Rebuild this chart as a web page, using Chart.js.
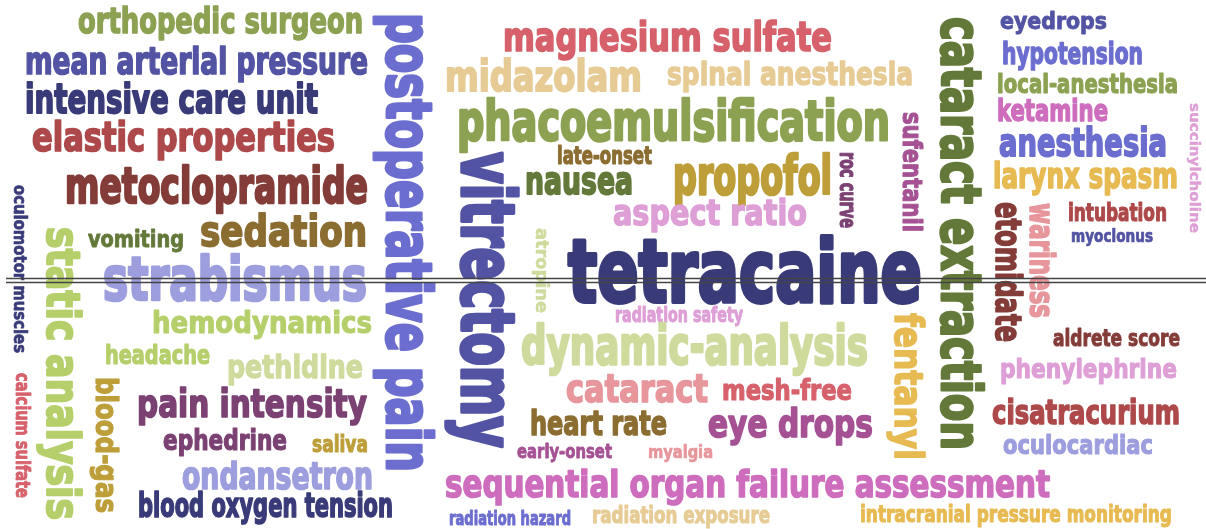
<!DOCTYPE html>
<html>
<head>
<meta charset="utf-8">
<script src="https://cdn.jsdelivr.net/npm/chart.js"></script>
<style>
    html, body { margin: 0; padding: 0; background: #fff; }
    #wrap { width: 1206px; height: 529px; position: relative; }
</style>
</head>
<body>
<div id="wrap"><canvas id="cloud"></canvas></div>
<script>
// word list of the cloud
const words = [
    "orthopedic surgeon", "mean arterial pressure", "intensive care unit", "elastic properties",
    "metoclopramide", "sedation", "vomiting", "strabismus", "hemodynamics", "headache",
    "pethidine", "pain intensity", "ephedrine", "saliva", "ondansetron", "blood oxygen tension",
    "magnesium sulfate", "midazolam", "spinal anesthesia", "phacoemulsification", "late-onset",
    "nausea", "propofol", "aspect ratio", "tetracaine", "radiation safety", "dynamic-analysis",
    "cataract", "mesh-free", "heart rate", "eye drops", "early-onset", "myalgia",
    "sequential organ failure assessment", "radiation hazard", "radiation exposure",
    "intracranial pressure monitoring", "eyedrops", "hypotension", "local-anesthesia", "ketamine",
    "anesthesia", "larynx spasm", "intubation", "myoclonus", "aldrete score", "phenylephrine",
    "cisatracurium", "oculocardiac",
    "postoperative pain", "vitrectomy", "cataract extraction", "oculomotor muscles",
    "static analysis", "calcium sulfate", "blood-gas", "atropine", "roc curve", "sufentanil",
    "fentanyl", "etomidate", "wariness", "succinylcholine"
];

// weight of each word (letter height)
const weights = [
    25, 27, 29, 29, 36, 31, 16, 43, 21, 19,
    22.5, 28, 20, 16.5, 27, 24,
    29, 31, 23, 40, 18,
    28, 38, 25, 62, 15, 38,
    28, 20.5, 24.5, 28, 13.5, 12.5,
    27, 14.5, 17,
    17, 17, 21, 19, 21.5,
    28, 25, 17.5, 12.5, 16, 19.5,
    24, 19,
    45, 52, 40, 12.5,
    33, 14, 22, 12, 16, 19,
    28, 25.5, 24.5, 10.5
];

// layout: anchor x, anchor y, run length, turned (0/1)
const posX = [
    220.5, 196.5, 171.5, 183.5, 216.5, 283.5, 136, 235, 262, 157.5,
    295, 252, 225, 340, 277.5, 265.5,
    667.5, 543.5, 790, 673.5, 604.5,
    579, 752.5, 710, 745, 679, 694.5,
    637, 787, 598.5, 790.5, 564.5, 680.5,
    747.5, 510, 681,
    1016, 1053.5, 1072.5, 1087.5, 1052.5,
    1083, 1085.5, 1117.5, 1112, 1116.5, 1088.5,
    1086, 1078,
    387, 462, 942, 13.5,
    47, 16, 96, 536, 840, 903,
    895, 996, 1030, 1189.5
];
const posY = [
    33, 74, 112.5, 150.5, 202.5, 246, 247, 300, 333, 364,
    377.5, 417, 450, 451.5, 488.5, 516.5,
    50.5, 90.5, 84.5, 140, 163.5,
    193.5, 193.5, 225, 301.5, 321.5, 364,
    401.5, 399.5, 435, 436.5, 457.5, 457.5,
    497, 524.5, 522.5,
    522, 28.5, 64, 92.5, 120.5,
    156, 188, 221, 242, 346, 377.5,
    424, 454,
    242.5, 300, 233.5, 269,
    373.5, 435.5, 445, 270.5, 190, 172,
    386.5, 272, 260.5, 168
];
const spans = [
    285, 343, 293, 303, 303, 167, 96, 264, 220, 105,
    136, 230, 124, 56, 191, 255,
    329, 197, 246, 433, 95,
    108, 159, 194, 354, 128, 347,
    142, 130, 137, 165, 95, 65,
    605, 122, 178,
    312, 107, 141, 181, 111,
    168, 185, 99, 82, 127, 177,
    188, 150,
    459, 296, 433, 168,
    293, 125, 136, 85, 76, 120,
    147, 140, 115, 130
];
const turned = [
    0, 0, 0, 0, 0, 0, 0, 0, 0, 0,
    0, 0, 0, 0, 0, 0,
    0, 0, 0, 0, 0,
    0, 0, 0, 0, 0, 0,
    0, 0, 0, 0, 0, 0,
    0, 0, 0,
    0, 0, 0, 0, 0,
    0, 0, 0, 0, 0, 0,
    0, 0,
    1, 1, 1, 1,
    1, 1, 1, 1, 1, 1,
    1, 1, 1, 1
];

// d3 category20b
const palette = [
    "#393b79", "#5254a3", "#6b6ecf", "#9c9ede", "#637939", "#8ca252", "#b5cf6b", "#cedb9c",
    "#8c6d31", "#bd9e39", "#e7ba52", "#e7cb94", "#843c39", "#ad494a", "#d6616b", "#e7969c",
    "#7b4173", "#a55194", "#ce6dbd", "#de9ed6"
];
const tones = [
    5, 1, 0, 13, 12, 8, 4, 3, 6, 6,
    7, 16, 16, 9, 3, 0,
    14, 11, 11, 5, 8,
    4, 9, 19, 0, 19, 7,
    15, 14, 8, 17, 17, 15,
    18, 2, 11,
    10, 1, 2, 5, 18,
    2, 10, 13, 1, 12, 19,
    13, 3,
    2, 1, 4, 0,
    6, 14, 9, 7, 16, 17,
    10, 12, 15, 19
];

// the double rule across the middle
const ruleX = [6, 1206];
const ruleY = [278.5, 282.5];

const FONT = '"DejaVu Sans Condensed", "DejaVu Sans", sans-serif';

const wordLayer = {
    id: 'wordLayer',
    beforeDatasetsDraw(chart) {
        const c = chart.ctx;
        const xs = chart.scales.x;
        const ys = chart.scales.y;

        c.save();
        c.font = 'bold 100px ' + FONT;
        const ref = c.measureText('h').actualBoundingBoxAscent || 76;
        c.restore();

        const pts = chart.data.datasets[0].data;
        pts.forEach((p, i) => {
            const px = xs.getPixelForValue(p.x);
            const py = ys.getPixelForValue(p.y);
            const size = weights[i] * 100 / ref * 1.06;

            c.save();
            c.translate(px, py);
            if (turned[i]) c.rotate(Math.PI / 2);
            c.font = 'bold ' + size.toFixed(2) + 'px ' + FONT;
            const w = c.measureText(words[i]).width;
            const sx = spans[i] / w;
            c.scale(sx, 1);
            c.textAlign = 'center';
            c.textBaseline = 'alphabetic';
            c.fillStyle = palette[tones[i]];
            c.strokeStyle = palette[tones[i]];
            c.lineJoin = 'round';
            c.lineWidth = weights[i] * 0.05 / sx;
            c.fillText(words[i], 0, 0);
            c.strokeText(words[i], 0, 0);
            c.restore();
        });
    }
};

const cloudPoints = words.map((w, i) => ({ x: posX[i], y: posY[i] }));

new Chart(document.getElementById('cloud'), {
    type: 'scatter',
    data: {
        datasets: [
            {
                label: 'words',
                data: cloudPoints,
                pointRadius: 0,
                pointHoverRadius: 0
            },
            {
                label: 'rule top',
                data: ruleX.map(x => ({ x, y: ruleY[0] })),
                showLine: true,
                borderColor: '#444',
                borderWidth: 1.6,
                pointRadius: 0
            },
            {
                label: 'rule bottom',
                data: ruleX.map(x => ({ x, y: ruleY[1] })),
                showLine: true,
                borderColor: '#444',
                borderWidth: 1.6,
                pointRadius: 0
            }
        ]
    },
    options: {
        responsive: true,
        maintainAspectRatio: false,
        animation: false,
        layout: { padding: 0 },
        scales: {
            x: { type: 'linear', min: 0, max: 1206, display: false },
            y: { type: 'linear', min: 0, max: 529, reverse: true, display: false }
        },
        plugins: {
            legend: { display: false },
            tooltip: { enabled: false }
        }
    },
    plugins: [wordLayer]
});
</script>
</body>
</html>
